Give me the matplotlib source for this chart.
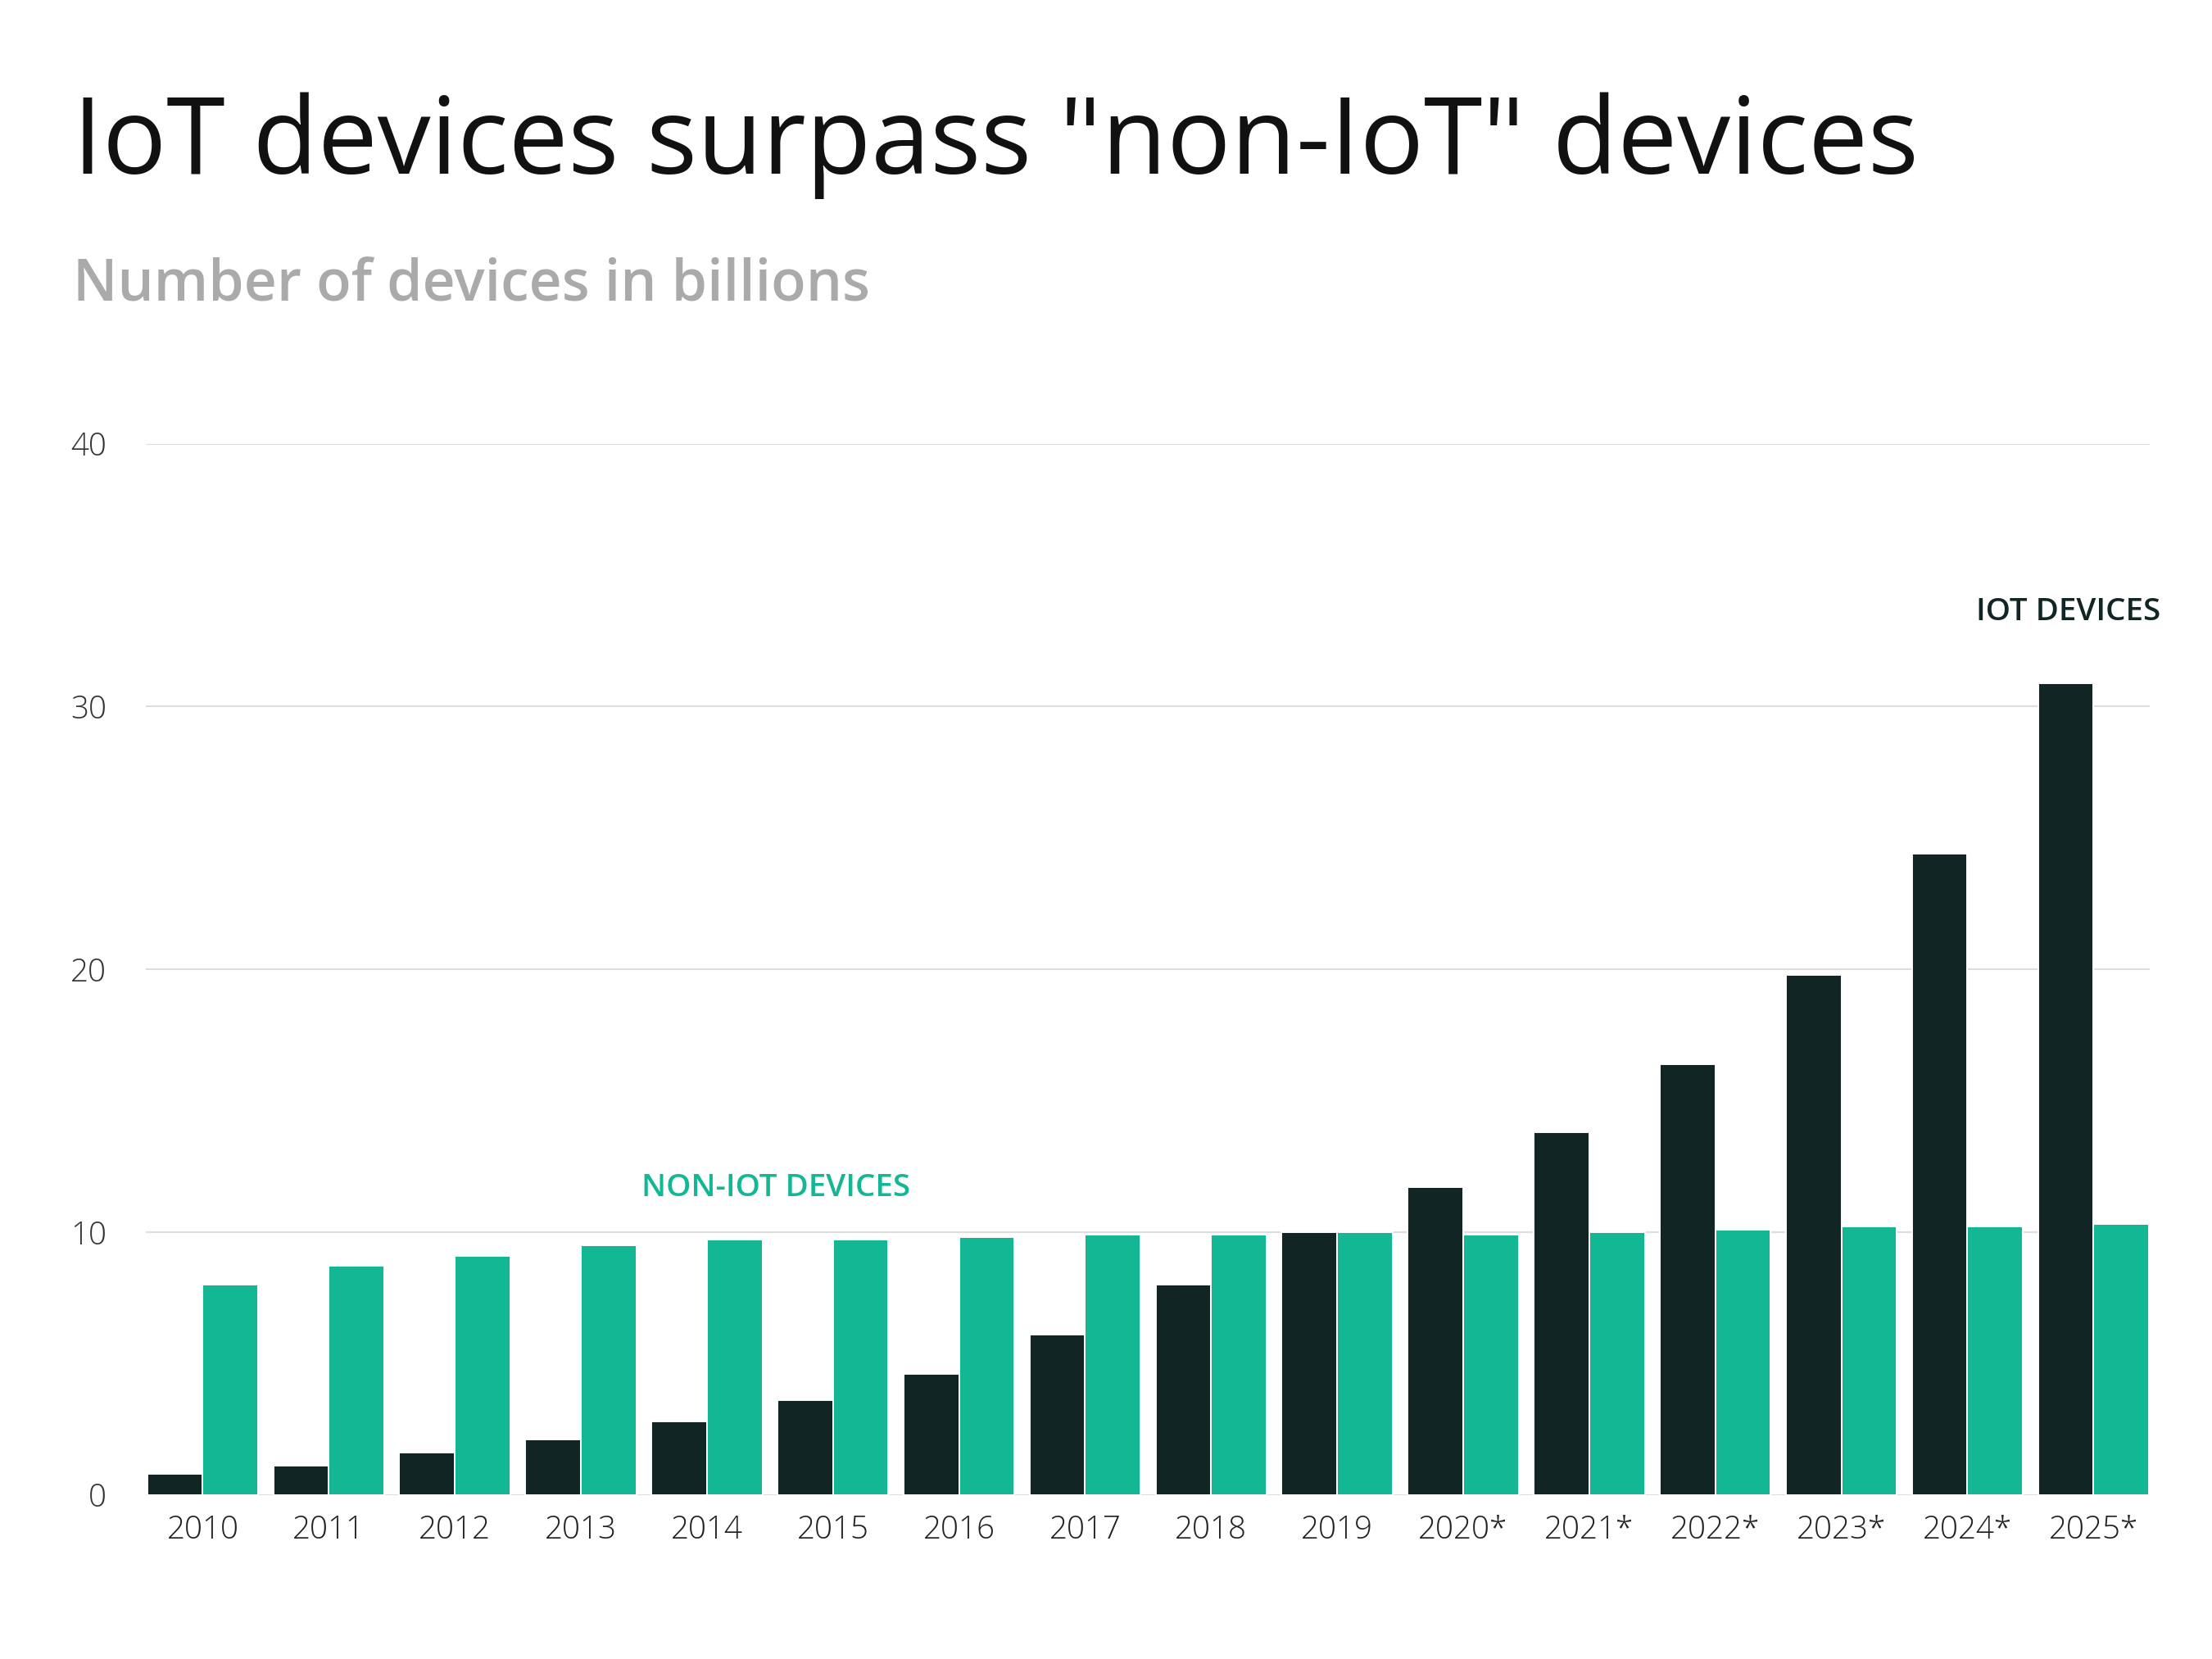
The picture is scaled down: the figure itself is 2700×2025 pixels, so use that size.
import matplotlib
matplotlib.use("Agg")
import matplotlib.pyplot as plt
import numpy as np

years = ["2010","2011","2012","2013","2014","2015","2016","2017","2018","2019",
         "2020*","2021*","2022*","2023*","2024*","2025*"]
iot = [0.8,1.1,1.6,2.1,2.8,3.6,4.6,6.1,8.0,10.0,11.7,13.8,16.4,19.8,24.4,30.9]
non_iot = [8.0,8.7,9.1,9.5,9.7,9.7,9.8,9.9,9.9,10.0,9.9,10.0,10.1,10.2,10.2,10.3]
yticks = [0,10,20,30,40]

DARK = "#112624"
GREEN = "#13b794"
FONT = "Open Sans"

fig = plt.figure(figsize=(15.6, 11.7), dpi=173.08)
ax = fig.add_axes([0.066, 0.099, 0.906, 0.6335])
x = np.arange(len(years))
w = 0.44
ax.bar(x - w/2, iot, w, color=DARK, edgecolor="white", linewidth=0.8, zorder=3)
ax.bar(x + w/2, non_iot, w, color=GREEN, edgecolor="white", linewidth=0.8, zorder=3)
ax.set_xlim(-0.45, len(years) - 0.55)
ax.set_ylim(0, 40)
ax.set_yticks(yticks)
ax.set_yticklabels([str(v) for v in yticks], fontsize=16, color="#333333", family=FONT, fontweight="light")
ax.set_xticks(x)
ax.set_xticklabels(years, fontsize=16, color="#222222", family=FONT, fontweight="light")
ax.tick_params(length=0, pad=10)
ax.tick_params(axis="y", pad=20)
ax.grid(axis="y", color="#dddddd", linewidth=0.9, zorder=0)
for s in ax.spines.values():
    s.set_visible(False)

ax.text(14.8, 33.0, "IOT DEVICES", color=DARK, fontsize=16, fontweight="semibold", family=FONT, ha="center", va="bottom")
ax.text(4.55, 11.1, "NON-IOT DEVICES", color=GREEN, fontsize=16, fontweight="semibold", family=FONT, ha="center", va="bottom")

fig.text(0.033, 0.912, 'IoT devices surpass "non-IoT" devices', fontsize=54, family=FONT, color="#111111", va="center")
fig.text(0.033, 0.828, "Number of devices in billions", fontsize=29, family=FONT, fontweight="semibold", color="#aaaaaa", va="center")

fig.savefig("out.png", dpi=173.08, facecolor="white")
